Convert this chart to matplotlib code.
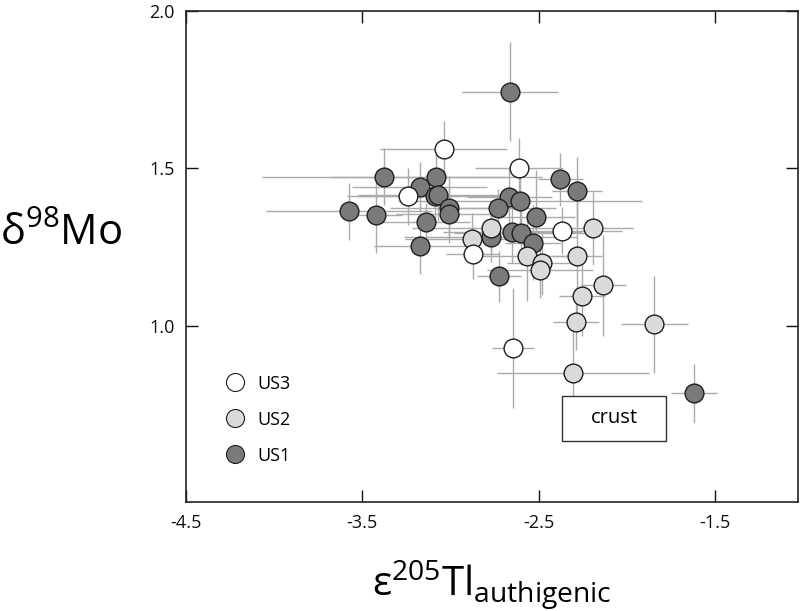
import matplotlib
matplotlib.use("Agg")
import matplotlib.pyplot as plt
from matplotlib.patches import Rectangle
from matplotlib.lines import Line2D

plt.rcParams['font.family'] = ['Open Sans', 'DejaVu Sans']
plt.rcParams['axes.unicode_minus'] = False
plt.rcParams['mathtext.fontset'] = 'custom'
plt.rcParams['mathtext.rm'] = 'Open Sans'
plt.rcParams['mathtext.it'] = 'Open Sans:italic'
plt.rcParams['mathtext.bf'] = 'Open Sans:bold'

# ---- data ----
us1_tl = [-2.663, -3.378, -3.176, -3.080, -3.089, -3.073, -3.011, -3.011, -3.141, -3.577,
          -3.423, -3.176, -2.377, -2.283, -2.666, -2.607, -2.733, -2.516, -2.652, -2.603,
          -2.534, -2.773, -2.724, -1.620]
us1_mo = [1.744, 1.474, 1.440, 1.472, 1.411, 1.414, 1.375, 1.354, 1.331, 1.364,
          1.352, 1.254, 1.465, 1.427, 1.408, 1.397, 1.374, 1.345, 1.298, 1.294,
          1.264, 1.282, 1.157, 0.786]
us1_tl_err = [0.27, 0.69, 0.38, 0.60, 0.50, 0.45, 0.33, 0.30, 0.25, 0.47,
              0.15, 0.26, 0.13, 0.14, 0.24, 0.69, 0.33, 0.22, 0.39, 0.38,
              0.16, 0.49, 0.125, 0.13]
us1_mo_err = [0.156, 0.09, 0.08, 0.07, 0.09, 0.08, 0.10, 0.09, 0.06, 0.09,
              0.12, 0.09, 0.085, 0.11, 0.09, 0.10, 0.06, 0.15, 0.10, 0.10,
              0.12, 0.08, 0.08, 0.094]

us3_tl = [-3.038, -2.612, -3.244, -2.368, -2.874, -2.646]
us3_mo = [1.562, 1.500, 1.411, 1.302, 1.229, 0.929]
us3_tl_err = [0.36, 0.25, 0.29, 0.34, 0.15, 0.12]
us3_mo_err = [0.09, 0.095, 0.09, 0.075, 0.08, 0.19]

us2_tl = [-2.769, -2.881, -2.193, -2.567, -2.281, -2.482, -2.491, -2.133, -2.256, -2.289,
          -1.846, -2.305]
us2_mo = [1.311, 1.277, 1.309, 1.220, 1.220, 1.199, 1.177, 1.128, 1.096, 1.013,
          1.004, 0.850]
us2_tl_err = [0.45, 0.38, 0.23, 0.33, 0.14, 0.20, 0.30, 0.13, 0.13, 0.13,
              0.19, 0.43]
us2_mo_err = [0.08, 0.08, 0.115, 0.14, 0.18, 0.10, 0.09, 0.16, 0.13, 0.09,
              0.154, 0.17]

x_ticks = [-4.5, -3.5, -2.5, -1.5]
x_tick_labels = ['-4.5', '-3.5', '-2.5', '-1.5']
y_ticks = [1.0, 1.5, 2.0]
y_tick_labels = ['1.0', '1.5', '2.0']

series = [
    ('US3', us3_tl, us3_mo, us3_tl_err, us3_mo_err, '#ffffff'),
    ('US2', us2_tl, us2_mo, us2_tl_err, us2_mo_err, '#dadada'),
    ('US1', us1_tl, us1_mo, us1_tl_err, us1_mo_err, '#7a7a7a'),
]

fig = plt.figure(figsize=(8.0, 6.11), dpi=100)
ax = fig.add_axes([0.2325, 0.1784, 0.765, 0.8036])

# error bars first
for name, xs, ys, xe, ye, col in series:
    ax.errorbar(xs, ys, xerr=xe, yerr=ye, fmt='none', ecolor='#ababab',
                elinewidth=1.0, capsize=0, zorder=1)

for name, xs, ys, xe, ye, col in reversed(series):
    ax.plot(xs, ys, linestyle='none', marker='o', markersize=13.5,
            markerfacecolor=col, markeredgecolor='#1e1e1e', markeredgewidth=1.0,
            zorder=3)

handles = []
for name, xs, ys, xe, ye, col in series:
    handles.append(Line2D([], [], linestyle='none', marker='o', markersize=13,
                          markerfacecolor=col, markeredgecolor='#1e1e1e',
                          markeredgewidth=0.8, label=name))

leg = ax.legend(handles=handles, loc='lower left', bbox_to_anchor=(0.045, 0.05),
                frameon=False, fontsize=13, labelspacing=1.0, handletextpad=0.75,
                handlelength=1.0, borderpad=0.2)

# crust box
ax.add_patch(Rectangle((-2.37, 0.635), 0.593, 0.141, facecolor='white',
                       edgecolor='#333333', linewidth=1.0, zorder=4))
ax.text(-2.37 + 0.593 / 2, 0.635 + 0.141 / 2, 'crust', ha='center', va='center',
        fontsize=14.5, zorder=5)

ax.set_xlim(-4.5, -1.03)
ax.set_ylim(0.44, 2.0)
ax.set_xticks(x_ticks)
ax.set_xticklabels(x_tick_labels)
ax.set_yticks(y_ticks)
ax.set_yticklabels(y_tick_labels)
ax.tick_params(direction='in', length=8.4, width=1.0, top=True, right=True,
               labelsize=13, colors='#111111')
ax.tick_params(axis='x', pad=9)
ax.tick_params(axis='y', pad=8)
for s in ax.spines.values():
    s.set_linewidth(1.2)
    s.set_color('#222222')

fig.text(0.0, 0.617, r'δ$^{\mathrm{98}}$Mo', fontsize=30, ha='left', va='center')
fig.text(0.615, 0.024, r'ε$^{\mathrm{205}}$Tl$_{\mathrm{authigenic}}$', fontsize=29,
         ha='center', va='baseline')

fig.savefig('out.png', dpi=100)
